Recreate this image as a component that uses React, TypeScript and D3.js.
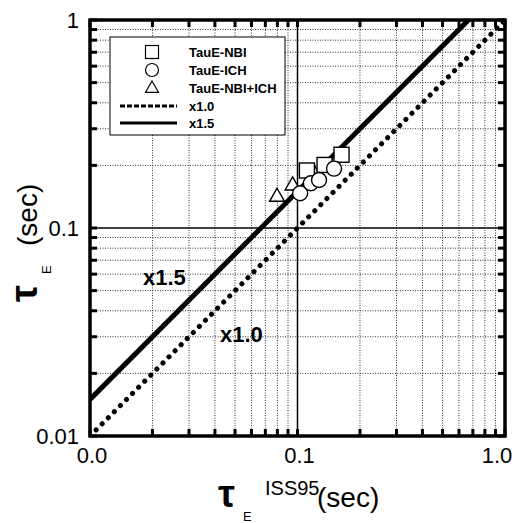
import React from 'react';
import * as d3 from 'd3';

// ---- data ----
const nbiX = [0.111, 0.135, 0.163];
const nbiY = [0.189, 0.201, 0.225];
const ichX = [0.103, 0.116, 0.127, 0.150];
const ichY = [0.147, 0.164, 0.170, 0.193];
const bothX = [0.0797, 0.0947, 0.121];
const bothY = [0.142, 0.161, 0.182];
const lineFactors = [1.0, 1.5];
const majorTicks = [0.01, 0.1, 1];
const xTickLabels = ['0.0', '0.1', '1.0'];
const yTickLabels = ['0.01', '0.1', '1'];
const legendLabels = ['TauE-NBI', 'TauE-ICH', 'TauE-NBI+ICH', 'x1.0', 'x1.5'];
const lineLabels = ['x1.0', 'x1.5'];
const lineLabelPos = [[0.0423, 0.0283], [0.018, 0.0532]];

const W = 528, H = 523;
const L = 90, R = 505, T = 20, B = 436;
const FONT = "'Liberation Sans', Arial, Helvetica, sans-serif";

export default function App() {
  const x = d3.scaleLog().domain([0.01, 1]).range([L, R]);
  const y = d3.scaleLog().domain([0.01, 1]).range([B, T]);
  const ticks = x.ticks();
  const minor = ticks.filter((t) => !majorTicks.some((m) => Math.abs(m - t) < 1e-9));
  const line = d3.line<[number, number]>().x((d) => x(d[0])).y((d) => y(d[1]));
  const fitLine = (f: number) => line([[0.01, 0.01 * f], [1, f]]) || '';

  const tri = (cx: number, cy: number, s: number) => {
    const h = s * 0.87;
    return `M${cx},${cy - h * 0.62}L${cx + s / 2},${cy + h * 0.38}L${cx - s / 2},${cy + h * 0.38}Z`;
  };

  const legX = 110, legY = 37, legW = 175, legH = 98;
  const rowsY = [52, 70, 88, 106, 123];
  const mX = 152;

  return (
    <svg width={W} height={H} style={{ position: 'absolute', left: 0, top: 0, background: '#fff' }} fontFamily={FONT}>
      <defs>
        <clipPath id="plot">
          <rect x={L} y={T} width={R - L} height={B - T} />
        </clipPath>
      </defs>
      <rect x={0} y={0} width={W} height={H} fill="#fff" />
      {/* grid */}
      <g stroke="#333" strokeWidth={1} strokeDasharray="1,1.5">
        {minor.map((t, i) => (
          <line key={'gx' + i} x1={x(t)} x2={x(t)} y1={T} y2={B} />
        ))}
        {minor.map((t, i) => (
          <line key={'gy' + i} x1={L} x2={R} y1={y(t)} y2={y(t)} />
        ))}
      </g>
      <g stroke="#000" strokeWidth={1.5}>
        <line x1={x(0.1)} x2={x(0.1)} y1={T} y2={B} />
        <line x1={L} x2={R} y1={y(0.1)} y2={y(0.1)} />
      </g>
      {/* fit lines */}
      <g clipPath="url(#plot)" fill="none" stroke="#000">
        <path d={fitLine(lineFactors[0])} strokeWidth={5} strokeDasharray="0.1,8.5" strokeLinecap="round" />
        <path d={fitLine(lineFactors[1])} strokeWidth={5} />
      </g>
      {/* line labels */}
      <g fontWeight="bold" fontSize={22} fill="#000">
        {lineLabels.map((s, i) => (
          <text key={s} x={x(lineLabelPos[i][0])} y={y(lineLabelPos[i][1])}>{s}</text>
        ))}
      </g>
      {/* markers */}
      <g fill="#fff" stroke="#000" strokeWidth={1.4}>
        {bothX.map((v, i) => (
          <path key={'t' + i} d={tri(x(v), y(bothY[i]), 15)} />
        ))}
        {nbiX.map((v, i) => (
          <rect key={'s' + i} x={x(v) - 7.5} y={y(nbiY[i]) - 7.5} width={15} height={15} />
        ))}
        {ichX.map((v, i) => (
          <circle key={'c' + i} cx={x(v)} cy={y(ichY[i])} r={7.5} />
        ))}
      </g>
      {/* legend */}
      <rect x={legX} y={legY} width={legW} height={legH} fill="#fff" stroke="#000" strokeWidth={1} />
      <g fill="#fff" stroke="#000" strokeWidth={1.2}>
        <rect x={mX - 6.5} y={rowsY[0] - 6.5} width={13} height={13} />
        <circle cx={mX} cy={rowsY[1]} r={6.5} />
        <path d={tri(mX, rowsY[2], 13)} />
      </g>
      <line x1={120} x2={177} y1={rowsY[3]} y2={rowsY[3]} stroke="#000" strokeWidth={3} strokeDasharray="5,2" />
      <line x1={120} x2={177} y1={rowsY[4]} y2={rowsY[4]} stroke="#000" strokeWidth={3} />
      <g fontWeight="bold" fontSize={13} fill="#000">
        {legendLabels.map((s, i) => (
          <text key={s} x={189} y={rowsY[i] + 5}>{s}</text>
        ))}
      </g>
      {/* ticks */}
      <g stroke="#000" strokeWidth={3}>
        {ticks.map((t, i) => (
          <g key={'tk' + i}>
            <line x1={x(t)} x2={x(t)} y1={B} y2={B - 7} />
            <line x1={x(t)} x2={x(t)} y1={T} y2={T + 7} />
            <line x1={L} x2={L + 7} y1={y(t)} y2={y(t)} />
            <line x1={R} x2={R - 7} y1={y(t)} y2={y(t)} />
          </g>
        ))}
      </g>
      {/* frame */}
      <rect x={L} y={T} width={R - L} height={B - T} fill="none" stroke="#000" strokeWidth={3.5} />
      {/* tick labels */}
      <g fontSize={22} fill="#000">
        {majorTicks.map((t, i) => (
          <text key={'xl' + i} x={x(t) + (i === 2 ? -8 : 2)} y={463} textAnchor="middle">{xTickLabels[i]}</text>
        ))}
        {majorTicks.map((t, i) => (
          <text key={'yl' + i} x={79} y={y(t) + 8} textAnchor="end">{yTickLabels[i]}</text>
        ))}
      </g>
      {/* x title */}
      <g fill="#000">
        <text x={218} y={507} fontSize={38} fontWeight="bold">τ</text>
        <text x={243} y={521} fontSize={13}>E</text>
        <text x={265} y={495} fontSize={20}>ISS95</text>
        <text x={317} y={507} fontSize={28}>(sec)</text>
      </g>
      {/* y title */}
      <g fill="#000" transform="translate(37,0) rotate(-90)">
        <text x={-302} y={0} fontSize={38} fontWeight="bold">τ</text>
        <text x={-274} y={14} fontSize={13}>E</text>
        <text x={-246} y={0} fontSize={28}>(sec)</text>
      </g>
    </svg>
  );
}
